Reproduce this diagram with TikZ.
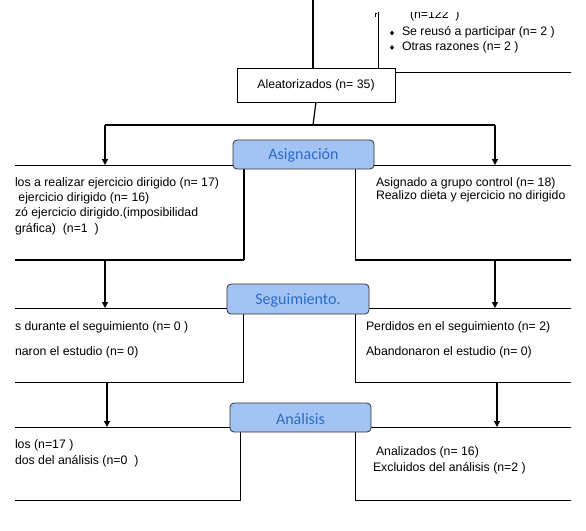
\documentclass[tikz,border=0pt]{standalone}
\usepackage{fontspec}
\setmainfont{Liberation Sans}
\newfontfamily\calibfont{Carlito}
\usetikzlibrary{arrows.meta,shapes.geometric}
\definecolor{phasefill}{HTML}{A4C3F5}
\definecolor{phasetext}{HTML}{2B6CC6}
\definecolor{edgegray}{HTML}{303030}
\begin{document}
\begin{tikzpicture}[x=1pt,y=-1pt,
  box/.style={draw=black, line width=0.8pt, fill=white, rectangle, inner sep=0pt, outer sep=0pt, anchor=north west},
  phase/.style={draw=edgegray, line width=0.8pt, fill=phasefill, rounded corners=4pt, inner sep=0pt, outer sep=0pt, anchor=north west,
    text=phasetext, font=\calibfont\fontsize{16}{18}\selectfont},
  txt/.style={anchor=west, inner sep=0pt, outer sep=0pt, font=\fontsize{12.3}{14}\selectfont},
  conn/.style={line width=1.2pt},
  arr/.style={line width=1.2pt, -{Triangle[length=6pt,width=6pt]}},
  bul/.style={diamond, fill=black, inner sep=0pt, minimum width=4pt, minimum height=5pt}
]
\useasboundingbox (0,0) rectangle (586,530);
\fill[white] (0,0) rectangle (586,530);
\begin{scope}
\clip (15,0) rectangle (571,530);
% exclusion box (clipped at top)
\begin{scope}
\clip (15,12) rectangle (571,530);
\node[box, minimum width=260pt, minimum height=100pt] (excl) at (378,-28) {};
\node[txt] (t0) at (410,15.5) {(n=122\ \ )};
\node[bul] (b1) at (392,33) {};
\node[txt, anchor=west] (t1) at (402,32.5) {Se reusó a participar (n= 2 )};
\node[bul] (b2) at (392,47.5) {};
\node[txt, anchor=west] (t2) at (402,47) {Otras razones (n= 2 )};
\draw[line width=1pt] (375,17) -- (375,13) -- (377,13);
\end{scope}
% top line
\coordinate (topin) at (313,0);
\node[box, minimum width=158pt, minimum height=34pt] (aleat) at (237,68) {};
\node[txt, anchor=center] (aleatt) at (aleat.center) {Aleatorizados (n= 35)};
\draw[conn] (topin) -- (aleat.north -| topin);

% asignacion boxes
\node[box, minimum width=293pt, minimum height=95pt] (asigL) at (-50,165) {};
\node[box, minimum width=285pt, minimum height=95pt] (asigR) at (355,165) {};
\draw[line width=0.8pt] ([yshift=1pt]asigL.south west) -- ([xshift=1pt,yshift=1pt]asigL.south east) -- ([xshift=1pt]asigL.north east);
\draw[line width=0.8pt] ([yshift=1pt]asigR.south west) -- ([yshift=1pt]asigR.south east);
\node[phase, minimum width=141pt, minimum height=29pt] (asig) at (233,140) {};
\node[anchor=center, inner sep=0pt, text=phasetext, font=\calibfont\fontsize{16}{18}\selectfont] (asigt) at ([yshift=-1pt]asig.center) {Asignación};

\node[txt] (l1) at (15,183.5) {los a realizar ejercicio dirigido (n= 17)};
\node[txt] (l2) at (15,198.5) {\ ejercicio dirigido (n= 16)};
\node[txt] (l3) at (15,213.5) {zó ejercicio dirigido.(imposibilidad};
\node[txt] (l4) at (15,229) {gráfica)\ \ (n=1\ \ )};
\node[txt] (r1) at (376,183) {Asignado a grupo control (n= 18)};
\node[txt] (r2) at (376,196.5) {Realizo dieta y ejercicio no dirigido};

% split arrows
\coordinate (split) at (313,125);
\coordinate (aL) at (105,125);
\coordinate (aR) at (495,125);
\draw[conn] (aleat.south) -- (split);
\draw[conn] (aL) -- (aR);
\draw[arr] (aL) -- (aL |- asigL.north);
\draw[arr] (aR) -- (aR |- asigR.north);

% seguimiento
\node[box, minimum width=293pt, minimum height=74pt] (segL) at (-50,308) {};
\node[box, minimum width=285pt, minimum height=74pt] (segR) at (355,308) {};
\node[phase, minimum width=142pt, minimum height=30pt] (seg) at (227,284) {};
\node[anchor=center, inner sep=0pt, text=phasetext, font=\calibfont\fontsize{16}{18}\selectfont] (segt) at ([yshift=-1pt]seg.center) {Seguimiento.};
\coordinate (sL) at (105,0);
\coordinate (sR) at (495,0);
\draw[arr] (sL |- asigL.south) -- (sL |- segL.north);
\draw[arr] (sR |- asigR.south) -- (sR |- segR.north);
\node[txt] (sl1) at (15,327) {s durante el seguimiento (n= 0 )};
\node[txt] (sl2) at (15,352) {naron el estudio (n= 0)};
\node[txt] (sr1) at (366,327) {Perdidos en el seguimiento (n= 2)};
\node[txt] (sr2) at (366,352) {Abandonaron el estudio (n= 0)};

% analisis
\node[box, minimum width=290pt, minimum height=73pt] (anaL) at (-50,427) {};
\node[box, minimum width=285pt, minimum height=73pt] (anaR) at (355,427) {};
\node[phase, minimum width=141pt, minimum height=29pt] (ana) at (230,403) {};
\node[anchor=center, inner sep=0pt, text=phasetext, font=\calibfont\fontsize{16}{18}\selectfont] (anat) at ([yshift=-1pt]ana.center) {Análisis};
\coordinate (nL) at (107,0);
\coordinate (nR) at (497,0);
\draw[arr] (nL |- segL.south) -- (nL |- anaL.north);
\draw[arr] (nR |- segR.south) -- (nR |- anaR.north);
\node[txt] (al1) at (15,445) {los (n=17 )};
\node[txt] (al2) at (15,461.5) {dos del análisis (n=0\ \ )};
\node[txt] (ar1) at (376,452) {Analizados (n= 16)};
\node[txt] (ar2) at (373,468.5) {Excluidos del análisis (n=2 )};
\end{scope}
\end{tikzpicture}
\end{document}
